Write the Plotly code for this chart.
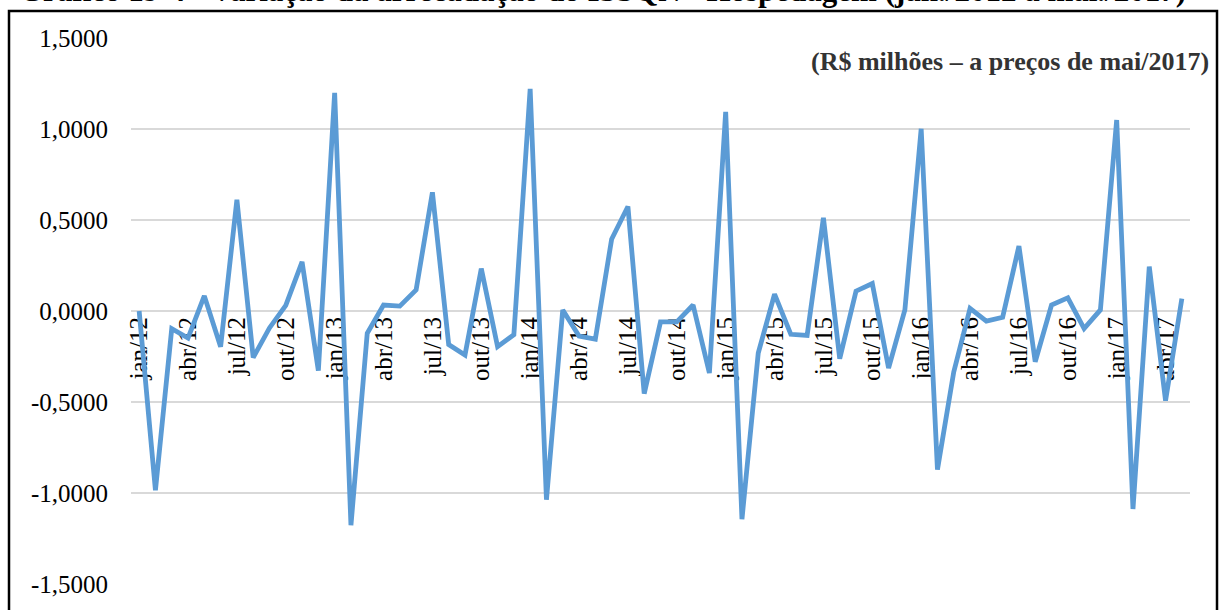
import plotly.graph_objects as go

# Monthly variation of ISSQN collection - Hospedagem (R$ millions, May/2017 prices)
months = [
    "jan/12", "fev/12", "mar/12", "abr/12", "mai/12", "jun/12", "jul/12", "ago/12", "set/12", "out/12", "nov/12", "dez/12",
    "jan/13", "fev/13", "mar/13", "abr/13", "mai/13", "jun/13", "jul/13", "ago/13", "set/13", "out/13", "nov/13", "dez/13",
    "jan/14", "fev/14", "mar/14", "abr/14", "mai/14", "jun/14", "jul/14", "ago/14", "set/14", "out/14", "nov/14", "dez/14",
    "jan/15", "fev/15", "mar/15", "abr/15", "mai/15", "jun/15", "jul/15", "ago/15", "set/15", "out/15", "nov/15", "dez/15",
    "jan/16", "fev/16", "mar/16", "abr/16", "mai/16", "jun/16", "jul/16", "ago/16", "set/16", "out/16", "nov/16", "dez/16",
    "jan/17", "fev/17", "mar/17", "abr/17", "mai/17",
]

variation = [
    0.000, -0.985, -0.097, -0.149, 0.083, -0.196, 0.611, -0.256, -0.093, 0.031, 0.270, -0.328,
    1.198, -1.177, -0.122, 0.033, 0.027, 0.116, 0.652, -0.184, -0.242, 0.233, -0.196, -0.130,
    1.220, -1.037, 0.006, -0.138, -0.155, 0.394, 0.574, -0.454, -0.060, -0.060, 0.033, -0.341,
    1.094, -1.144, -0.231, 0.093, -0.128, -0.134, 0.512, -0.262, 0.109, 0.151, -0.314, 0.006,
    1.001, -0.871, -0.335, 0.014, -0.056, -0.035, 0.357, -0.279, 0.033, 0.072, -0.097, 0.006,
    1.049, -1.088, 0.244, -0.493, 0.068,
]

x_tick_labels = months[::3]
y_tick_values = [-1.5, -1.0, -0.5, 0.0, 0.5, 1.0, 1.5]
y_tick_labels = ["-1,5000", "-1,0000", "-0,5000", "0,0000", "0,5000", "1,0000", "1,5000"]

title_text = "Gráfico 19-4 - Variação da arrecadação do ISSQN - Hospedagem (jan./2012 a mai./2017)"
unit_text = "(R$ milhões – a preços de mai/2017)"

SERIF = "Liberation Serif, Times New Roman, serif"

fig = go.Figure()
fig.add_trace(go.Scatter(
    x=months,
    y=variation,
    mode="lines",
    line=dict(color="#5B9BD5", width=4.8),
    hoverinfo="x+y",
))

fig.update_layout(
    width=1219,
    height=610,
    margin=dict(l=131, r=29, t=38, b=26),
    paper_bgcolor="white",
    plot_bgcolor="white",
    showlegend=False,
    font=dict(family=SERIF, size=25, color="black"),
    xaxis=dict(
        type="category",
        range=[-0.5, len(months) - 0.5],
        anchor="free",
        position=0.5,
        tickmode="array",
        tickvals=x_tick_labels,
        ticktext=x_tick_labels,
        tickangle=-90,
        tickfont=dict(family=SERIF, size=25, color="black"),
        showgrid=False,
        showline=False,
        zeroline=False,
        ticks="",
        layer="below traces",
    ),
    yaxis=dict(
        range=[-1.5, 1.5],
        tickmode="array",
        tickvals=y_tick_values,
        ticktext=y_tick_labels,
        tickfont=dict(family=SERIF, size=25, color="black"),
        showgrid=True,
        gridcolor="#D9D9D9",
        gridwidth=1.5,
        zeroline=False,
        showline=False,
        ticks="",
        ticklabelstandoff=22,
    ),
    shapes=[
        dict(
            type="rect", xref="paper", yref="paper",
            x0=-0.1152, x1=1.0255, y0=-0.07, y1=1.0495,
            line=dict(color="black", width=2.5),
            fillcolor="rgba(0,0,0,0)",
            layer="above",
        )
    ],
    annotations=[
        dict(
            text="<b>" + title_text + "</b>", xref="paper", yref="paper",
            x=0.4448, y=1.0865, xanchor="center", yanchor="middle",
            showarrow=False,
            font=dict(family=SERIF, size=31, color="black"),
        ),
        dict(
            text="<b>" + unit_text + "</b>", xref="paper", yref="paper",
            x=1.020, y=0.957, xanchor="right", yanchor="middle",
            showarrow=False,
            font=dict(family=SERIF, size=26, color="#333333"),
        ),
    ],
)

fig.write_html("out.html")
